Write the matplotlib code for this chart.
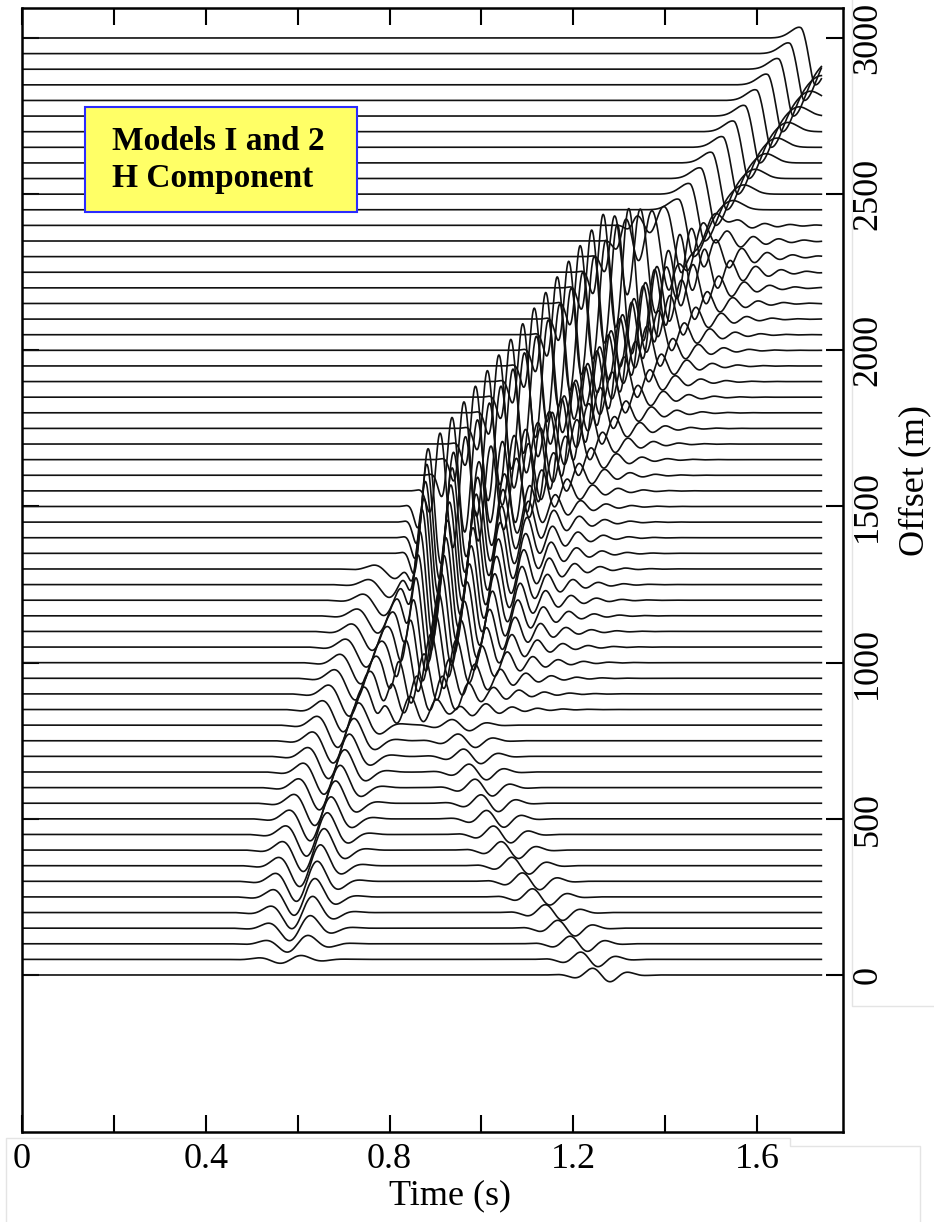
import numpy as np
import matplotlib
matplotlib.use("Agg")
import matplotlib.pyplot as plt
from matplotlib.patches import Rectangle
from matplotlib.lines import Line2D

# ---------------- data ----------------
trace_offsets = list(range(0, 3001, 50))          # receiver offsets (m)
t_end = 1.74                                     # trace length (s)

# event A : early arrival (centre time, amplitude in m)
a_offsets = list(range(50, 1301, 50))
a_times = [0.585, 0.600, 0.605, 0.610, 0.615, 0.620, 0.627, 0.635, 0.642, 0.650,
           0.660, 0.670, 0.680, 0.690, 0.700, 0.710, 0.722, 0.735, 0.748, 0.760,
           0.772, 0.785, 0.797, 0.810, 0.822, 0.835]
a_amps = [14, 30, 45, 58, 66, 72, 75, 77, 78, 79, 80, 80, 80, 80, 80, 80, 80, 80,
          78, 76, 72, 68, 62, 55, 46, 35]

# event B : late arrival moving to earlier time with offset
b_offsets = list(range(0, 901, 50))
b_times = [1.261, 1.235, 1.212, 1.185, 1.158, 1.130, 1.108, 1.085, 1.062, 1.045,
           1.030, 1.018, 1.005, 0.992, 0.980, 0.968, 0.955, 0.942, 0.930]
b_amps = [24, 26, 27, 28, 28, 29, 30, 30, 30, 30, 30, 30, 30, 28, 26, 24, 20, 16, 12]

# event C : strong ringing wave train (onset time of first peak)
c_offsets = list(range(850, 2401, 50))
c_times = [0.790, 0.805, 0.820, 0.835, 0.845, 0.852, 0.858, 0.863, 0.867, 0.871,
           0.875, 0.878, 0.881, 0.884, 0.910, 0.936, 0.962, 0.987, 1.013, 1.038,
           1.064, 1.090, 1.115, 1.140, 1.165, 1.190, 1.215, 1.240, 1.265, 1.290,
           1.315, 1.340]
c_amps = [40, 60, 80, 95, 110, 125, 140, 150, 160, 170, 175, 180,
          185, 185, 185, 185, 185, 185, 185, 185, 185, 185, 185, 185, 185, 185,
          185, 185, 185, 130, 70, 30]

# event U : far-offset arrival (trough time)
u_offsets = list(range(1600, 3001, 50))
u_times = [1.052, 1.076, 1.100, 1.124,
           1.149, 1.173, 1.197, 1.221, 1.245, 1.269, 1.293, 1.317, 1.341, 1.365,
           1.390, 1.414, 1.438, 1.462, 1.486, 1.510, 1.534, 1.558, 1.582, 1.606,
           1.631, 1.655, 1.679, 1.703, 1.727]
u_amps = [40, 70, 100, 125,
          140, 150, 150, 150, 150, 150, 150, 150, 150, 150, 150,
          150, 150, 150, 150, 150, 150, 150, 150, 150, 150, 150, 150, 150, 150]

x_ticks = [0, 0.2, 0.4, 0.6, 0.8, 1.0, 1.2, 1.4, 1.6]
x_labels = ["0", "", "0.4", "", "0.8", "", "1.2", "", "1.6"]
y_ticks = [0, 500, 1000, 1500, 2000, 2500, 3000]
y_labels = ["0", "500", "1000", "1500", "2000", "2500", "3000"]


# ---------------- wavelet shapes ----------------
def wav_sin(tau, f=10.0, s=0.07):
    return np.sin(2 * np.pi * f * tau) * np.exp(-(tau / s) ** 2)


def wav_ring(tau, f=18.0, rise=0.025, length=0.22):
    env = np.where(tau < 0, np.exp(-(tau / rise) ** 2), np.exp(-(tau / length) ** 2))
    return np.cos(2 * np.pi * f * tau) * env


def wav_u(tau):
    sp = np.where(tau < -0.032, 0.030, 0.012)      # gentle rise, quick turn-over
    st = np.where(tau < 0, 0.016, 0.035)           # steep fall, slower recovery
    return (0.24 * np.exp(-((tau + 0.032) / sp) ** 2)
            - np.exp(-(tau / st) ** 2)
            + 0.20 * np.exp(-((tau - 0.085) / 0.030) ** 2))


t = np.arange(0, t_end + 1e-9, 0.001)
traces = {h: np.zeros_like(t) for h in trace_offsets}
for h, T, A in zip(a_offsets, a_times, a_amps):
    traces[h] += A * wav_sin(t - T)
for h, T, A in zip(b_offsets, b_times, b_amps):
    traces[h] += -A * wav_sin(t - T, f=12.0, s=0.06)
for h, T, A in zip(c_offsets, c_times, c_amps):
    traces[h] += A * wav_ring(t - T)
for h, T, A in zip(u_offsets, u_times, u_amps):
    traces[h] += A * wav_u(t - T)

# ---------------- figure ----------------
W, H = 934, 1222
fig = plt.figure(figsize=(W / 100, H / 100), dpi=100)
L, R, TOP, BOT = 22, 843, 8, 1132
ax = fig.add_axes([L / W, 1 - BOT / H, (R - L) / W, (BOT - TOP) / H])

for h in trace_offsets:
    ax.plot(t, h + traces[h], color="#111111", lw=1.2, solid_joinstyle="round")

ax.set_xlim(0, (R - L) / 459.4)
px_per_m = 937 / 3000
ax.set_ylim(-(BOT - 975) / px_per_m, (975 - TOP) / px_per_m)

serif = ["Liberation Serif", "DejaVu Serif"]
ax.set_xticks(x_ticks)
ax.set_xticklabels(x_labels, family=serif, fontsize=26)
ax.set_yticks(y_ticks)
ax.set_yticklabels(y_labels, family=serif, fontsize=26, rotation=90, va="center")
ax.tick_params(axis="both", direction="in", length=12.2, width=1.5,
               top=True, bottom=True, left=True, right=True)
ax.tick_params(axis="y", labelleft=False, labelright=True, pad=6)
ax.tick_params(axis="x", pad=8)
for sp_ in ax.spines.values():
    sp_.set_linewidth(1.8)

fig.text(450 / W, 1 - 1196 / H, "Time (s)", family=serif, fontsize=26,
         ha="center", va="center")
fig.text(915 / W, 1 - 481 / H, "Offset (m)", family=serif, fontsize=26,
         ha="center", va="center", rotation=90)

# annotation box
fig.patches.append(Rectangle((85 / W, 1 - 212 / H), 272 / W, 105 / H,
                             transform=fig.transFigure, facecolor="#ffff66",
                             edgecolor="#2a2aff", lw=1.5, zorder=5))
fig.text(112 / W, 1 - 150 / H, "Models I and 2", family=serif, fontsize=24,
         fontweight="bold", ha="left", va="baseline", zorder=6)
fig.text(112 / W, 1 - 187 / H, "H Component", family=serif, fontsize=24,
         fontweight="bold", ha="left", va="baseline", zorder=6)

# faint frames around the pasted label areas
gray = "#e4e4e4"
def fline(xs, ys):
    fig.add_artist(Line2D([x / W for x in xs], [1 - y / H for y in ys],
                          transform=fig.transFigure, color=gray, lw=1.0, zorder=0))
fline([6, 6, 790, 790, 920, 920], [1222, 1138, 1138, 1146, 1146, 1222])
fline([852, 852, 934], [0, 1006, 1006])

fig.savefig("out.png", dpi=100)
